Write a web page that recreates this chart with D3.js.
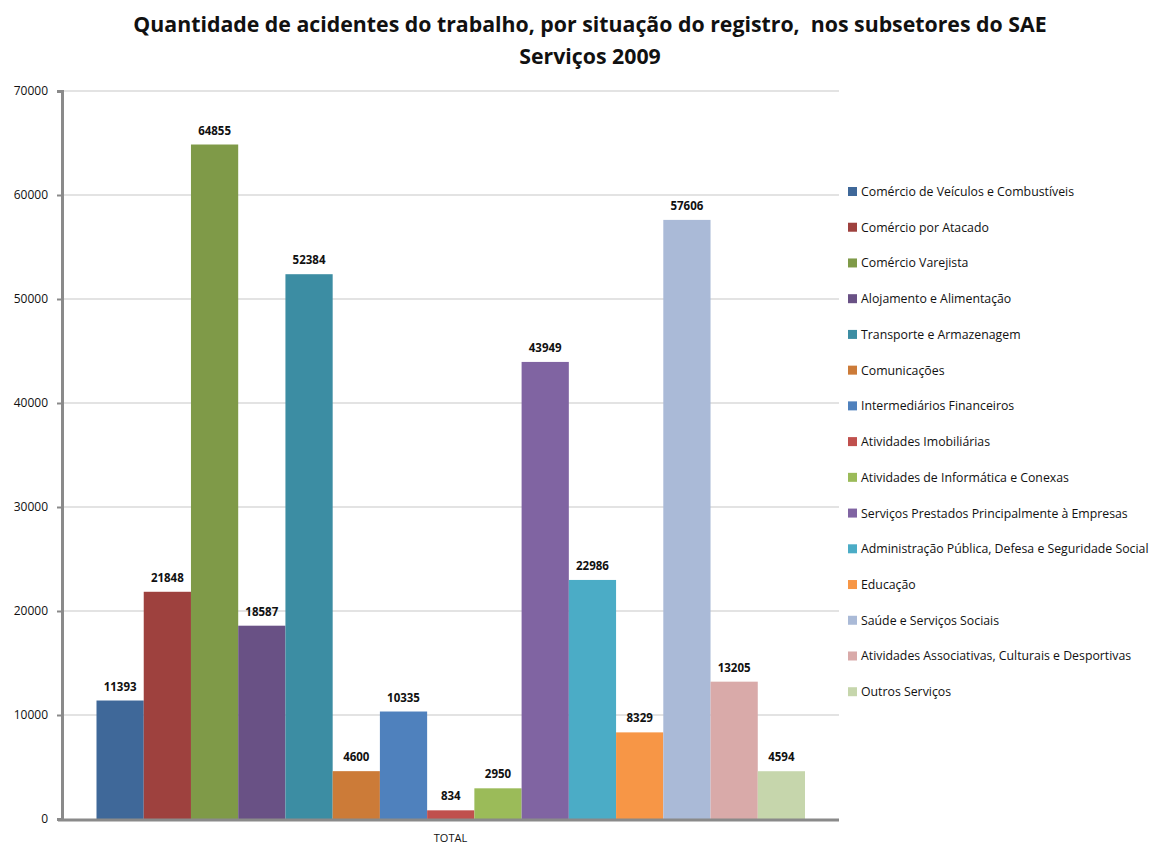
<!DOCTYPE html>
<html>
<head>
  <meta charset="utf-8">
  <script src="https://d3js.org/d3.v7.min.js"></script>
  <style>
    body { margin:0; background:#fff; }
    text { font-family: "Open Sans", "Noto Sans", sans-serif; fill:#111; }
  </style>
</head>
<body>
  <script>
    // dados
    var subsetores = ["Comércio de Veículos e Combustíveis", "Comércio por Atacado", "Comércio Varejista",
      "Alojamento e Alimentação", "Transporte e Armazenagem", "Comunicações", "Intermediários Financeiros",
      "Atividades Imobiliárias", "Atividades de Informática e Conexas", "Serviços Prestados Principalmente à Empresas",
      "Administração Pública, Defesa e Seguridade Social", "Educação", "Saúde e Serviços Sociais",
      "Atividades Associativas, Culturais e Desportivas", "Outros Serviços"];
    var valores = [11393, 21848, 64855, 18587, 52384, 4600, 10335, 834, 2950, 43949, 22986, 8329, 57606, 13205, 4594];
    var cores = ["#3F6899", "#9E413E", "#7F9A48", "#695185", "#3C8DA3", "#CC7B38", "#4F81BD", "#C0504D",
      "#9BBB59", "#8064A2", "#4BACC6", "#F79646", "#AABAD7", "#D9AAA9", "#C6D6AC"];
    var yTicks = [0, 10000, 20000, 30000, 40000, 50000, 60000, 70000];
    var categoria = "TOTAL";

    var svg = d3.select("body").append("svg")
      .attr("width", 1156)
      .attr("height", 846);

    var pLeft = 62, pRight = 839, pTop = 91, pBottom = 819;

    var y = d3.scaleLinear().domain([0, 70000]).range([pBottom, pTop]);
    var x0 = d3.scaleBand().domain([categoria]).range([pLeft, pRight]).paddingOuter(0.045).paddingInner(0);
    var x = d3.scaleBand().domain(subsetores).range([96.5, 805]).padding(0);

    // grade
    svg.append("g").selectAll("line").data(yTicks.slice(1)).enter().append("line")
      .attr("x1", pLeft).attr("x2", pRight)
      .attr("y1", function(d){ return y(d); }).attr("y2", function(d){ return y(d); })
      .attr("stroke", "#e3e3e3").attr("stroke-width", 2);

    // eixo y
    var yAxis = svg.append("g").attr("transform", "translate(" + pLeft + ",0)")
      .call(d3.axisLeft(y).tickValues(yTicks).tickSize(5).tickPadding(9).tickFormat(d3.format("d")));
    yAxis.select(".domain").attr("stroke", "#8a8a8a").attr("stroke-width", 3);
    yAxis.selectAll(".tick line").attr("stroke", "#8a8a8a").attr("stroke-width", 2);
    yAxis.selectAll(".tick text").attr("font-size", 12).attr("font-family", "Open Sans, sans-serif").attr("fill", "#111");

    // barras
    svg.append("g").selectAll("rect").data(valores).enter().append("rect")
      .attr("x", function(d, i){ return x(subsetores[i]); })
      .attr("width", x.bandwidth())
      .attr("y", function(d){ return y(d); })
      .attr("height", function(d){ return pBottom - y(d); })
      .attr("fill", function(d, i){ return cores[i]; });

    // rótulos
    svg.append("g").selectAll("text").data(valores).enter().append("text")
      .attr("x", function(d, i){ return x(subsetores[i]) + x.bandwidth() / 2; })
      .attr("y", function(d){ return y(d) - 10; })
      .attr("text-anchor", "middle")
      .attr("font-size", 11.5).attr("font-weight", "bold")
      .text(function(d){ return d; });

    // eixo x
    svg.append("line").attr("x1", pLeft - 4).attr("x2", pRight).attr("y1", pBottom + 1).attr("y2", pBottom + 1)
      .attr("stroke", "#8a8a8a").attr("stroke-width", 3);
    svg.append("text").attr("x", x0(categoria) + x0.bandwidth() / 2).attr("y", 842)
      .attr("text-anchor", "middle").attr("font-size", 11).text(categoria);

    // título
    svg.append("text").attr("x", 590).attr("y", 32).attr("text-anchor", "middle")
      .attr("font-size", 21.3).attr("font-weight", "bold")
      .style("white-space", "pre")
      .text("Quantidade de acidentes do trabalho, por situação do registro,  nos subsetores do SAE");
    svg.append("text").attr("x", 590).attr("y", 64).attr("text-anchor", "middle")
      .attr("font-size", 21.3).attr("font-weight", "bold").text("Serviços 2009");

    // legenda
    var leg = svg.append("g").selectAll("g").data(subsetores).enter().append("g")
      .attr("transform", function(d, i){ return "translate(848," + (192 + i * 35.73) + ")"; });
    leg.append("rect").attr("x", 0).attr("y", -5).attr("width", 9).attr("height", 9)
      .attr("fill", function(d, i){ return cores[i]; });
    leg.append("text").attr("x", 13).attr("y", 4).attr("font-size", 12.3)
      .text(function(d){ return d; });
  </script>
</body>
</html>
